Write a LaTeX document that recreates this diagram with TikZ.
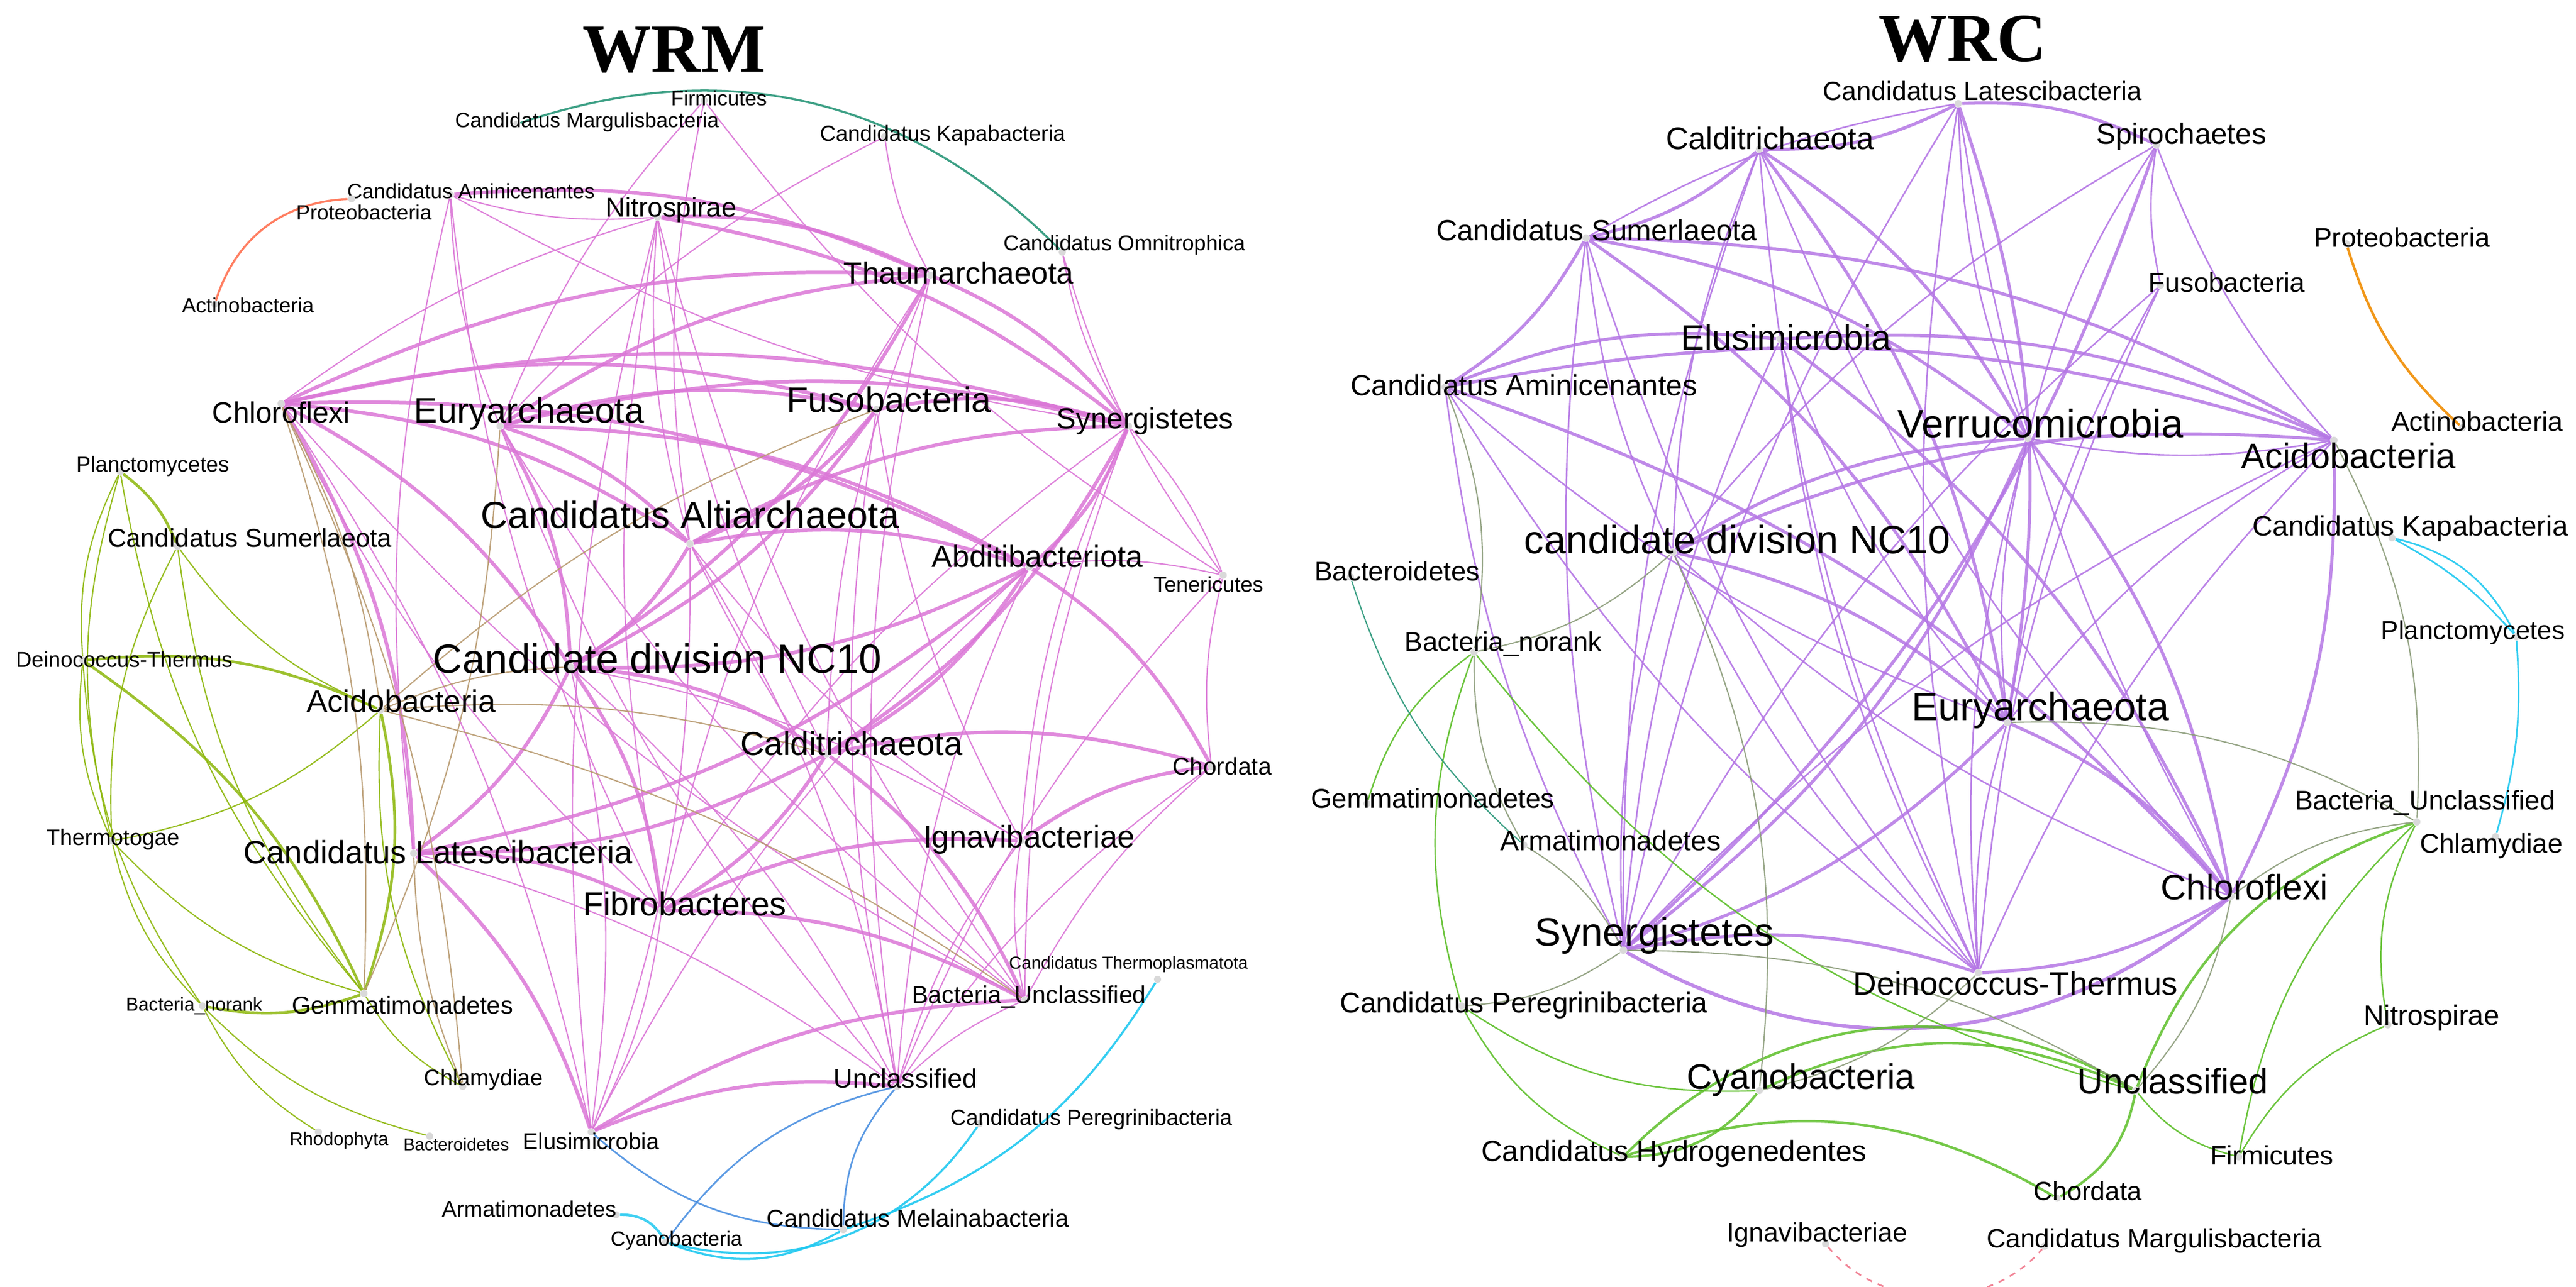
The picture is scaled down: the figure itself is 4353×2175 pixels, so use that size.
\documentclass[tikz,border=0pt]{standalone}
\usepackage{fontspec}
\setmainfont{Liberation Sans}
\newfontfamily\ttl{Liberation Serif}
\pgfdeclarelayer{bg}
\pgfsetlayers{bg,main}
\definecolor{pk}{RGB}{218,118,214}
\definecolor{pu}{RGB}{180,118,228}
\definecolor{ol}{RGB}{140,182,10}
\definecolor{gr}{RGB}{92,190,40}
\definecolor{tn}{RGB}{184,154,112}
\definecolor{og}{RGB}{140,156,122}
\definecolor{tl}{RGB}{40,150,120}
\definecolor{orr}{RGB}{255,112,80}
\definecolor{org}{RGB}{240,140,0}
\definecolor{bl}{RGB}{74,143,224}
\definecolor{cy}{RGB}{30,200,240}
\definecolor{rs}{RGB}{240,120,140}
\tikzset{
  x=0.01cm, y=-0.01cm,
  dot/.style={circle, inner sep=0pt, minimum size=0.12cm, fill=black!15},
  lab/.style={inner sep=0pt, text=black},
  T/.style={draw=#1, line width=1.7pt, opacity=0.85},
  t/.style={draw=#1, line width=0.6pt, opacity=0.9},
}
\newcommand\Nd[5]{\node[dot] (#1) at (#2) {}; \node[lab,font=\fontsize{#4}{#4}\selectfont] (#1-l) at (#3) {#5};}
\begin{document}
\begin{tikzpicture}
\useasboundingbox (0,0) rectangle (4353,2175);
\node[lab,font=\ttl\bfseries\fontsize{33}{33}\selectfont] (wrm) at (1139,84) {WRM};
\node[lab,font=\ttl\bfseries\fontsize{33}{33}\selectfont] (wrc) at (3316,66) {WRC};
% left
\Nd{lFm}{1190,170}{1215,166}{10}{Firmicutes}
\Nd{lMa}{873,210}{992,206}{10}{Candidatus Margulisbacteria}
\Nd{lK}{1495,231}{1593,229}{10.5}{Candidatus Kapabacteria}
\Nd{lAm}{761,329}{796,323}{10}{Candidatus Aminicenantes}
\Nd{lPr}{594,336}{615,359}{10}{Proteobacteria}
\Nd{lAct}{363,514}{419,516}{10}{Actinobacteria}
\Nd{lNi}{1111,367}{1134,355}{13}{Nitrospirae}
\Nd{lO}{1795,426}{1900,414}{10.3}{Candidatus Omnitrophica}
\Nd{lT}{1572,465}{1620,461}{14.6}{Thaumarchaeota}
\Nd{lC}{475,682}{475,697}{14}{Chloroflexi}
\Nd{lE}{845,720}{894,699}{17}{Euryarchaeota}
\Nd{lF}{1481,692}{1502,675}{17}{Fusobacteria}
\Nd{lS}{1907,720}{1935,712}{14}{Synergistetes}
\Nd{lP}{203,797}{258,788}{10.4}{Planctomycetes}
\Nd{lA}{1166,919}{1166,870}{18}{Candidatus Altiarchaeota}
\Nd{lSu}{300,923}{422,909}{12.4}{Candidatus Sumerlaeota}
\Nd{lAb}{1739,958}{1753,940}{14.7}{Abditibacteriota}
\Nd{lTe}{2067,972}{2042,988}{10.3}{Tenericutes}
\Nd{lDT}{140,1116}{210,1114}{10.4}{Deinococcus-Thermus}
\Nd{lN}{964,1127}{1111,1113}{19.6}{Candidate division NC10}
\Nd{lAc}{643,1200}{678,1185}{15}{Acidobacteria}
\Nd{lCa}{1397,1274}{1439,1256}{16}{Calditrichaeota}
\Nd{lCh}{2047,1295}{2065,1295}{11.6}{Chordata}
\Nd{lTh}{189,1421}{191,1419}{10.8}{Thermotogae}
\Nd{lL}{699,1442}{740,1440}{15.5}{Candidatus Latescibacteria}
\Nd{lI}{1725,1421}{1739,1419}{15}{Ignavibacteriae}
\Nd{lFi}{1118,1539}{1157,1527}{16}{Fibrobacteres}
\Nd{lTp}{1956,1655}{1907,1630}{8.4}{Candidatus Thermoplasmatota}
\Nd{lBn}{342,1700}{328,1700}{9}{Bacteria\_norank}
\Nd{lG}{615,1679}{680,1699}{11.8}{Gemmatimonadetes}
\Nd{lBU}{1732,1690}{1739,1685}{11.7}{Bacteria\_Unclassified}
\Nd{lChl}{782,1836}{817,1825}{10.8}{Chlamydiae}
\Nd{lU}{1516,1836}{1530,1822}{12.8}{Unclassified}
\Nd{lPe}{1655,1899}{1844,1892}{10.5}{Candidatus Peregrinibacteria}
\Nd{lRh}{538,1913}{573,1927}{8.8}{Rhodophyta}
\Nd{lBa}{726,1920}{771,1934}{8.3}{Bacteroidetes}
\Nd{lEl}{999,1913}{999,1929}{11}{Elusimicrobia}
\Nd{lAr}{1041,2053}{894,2043}{10.7}{Armatimonadetes}
\Nd{lMe}{1425,2078}{1551,2059}{11.7}{Candidatus Melainabacteria}
\Nd{lCy}{1125,2099}{1143,2097}{9.8}{Cyanobacteria}
% right
\Nd{rL}{3309,175}{3350,154}{12.7}{Candidatus Latescibacteria}
\Nd{rCa}{2973,252}{2991,234}{15}{Calditrichaeota}
\Nd{rSp}{3644,245}{3686,231}{14}{Spirochaetes}
\Nd{rSu}{2680,402}{2698,389}{14}{Candidatus Sumerlaeota}
\Nd{rPr}{3965,412}{4059,401}{13}{Proteobacteria}
\Nd{rFu}{3651,482}{3763,477}{13}{Fusobacteria}
\Nd{rEl}{3008,573}{3018,570}{17}{Elusimicrobia}
\Nd{rAm}{2442,654}{2575,651}{14}{Candidatus Aminicenantes}
\Nd{rV}{3427,741}{3448,716}{19}{Verrucomicrobia}
\Nd{rAct}{4161,723}{4186,712}{13}{Actinobacteria}
\Nd{rAc}{3944,744}{3969,770}{17}{Acidobacteria}
\Nd{rKa}{4042,909}{4073,893}{13.5}{Candidatus Kapabacteria}
\Nd{rN}{2827,933}{2936,912}{19}{candidate division NC10}
\Nd{rBa}{2282,975}{2361,965}{13}{Bacteroidetes}
\Nd{rPl}{4252,1076}{4179,1069}{12.5}{Planctomycetes}
\Nd{rBn}{2491,1102}{2540,1088}{13}{Bacteria\_norank}
\Nd{rE}{3392,1221}{3448,1200}{19}{Euryarchaeota}
\Nd{rGe}{2310,1358}{2421,1349}{13}{Gemmatimonadetes}
\Nd{rAr}{2575,1428}{2722,1421}{13.5}{Armatimonadetes}
\Nd{rBU}{4084,1389}{4098,1356}{13}{Bacteria\_Unclassified}
\Nd{rChl}{4217,1414}{4210,1430}{13}{Chlamydiae}
\Nd{rCh}{3770,1515}{3793,1499}{17}{Chloroflexi}
\Nd{rS}{2743,1606}{2796,1581}{19}{Synergistetes}
\Nd{rD}{3343,1644}{3406,1662}{15.6}{Deinococcus-Thermus}
\Nd{rPe}{2470,1700}{2575,1699}{13.7}{Candidatus Peregrinibacteria}
\Nd{rNi}{4035,1732}{4109,1720}{13.5}{Nitrospirae}
\Nd{rCy}{2973,1843}{3043,1825}{17}{Cyanobacteria}
\Nd{rU}{3609,1843}{3672,1827}{17}{Unclassified}
\Nd{rHy}{2743,1955}{2829,1950}{14}{Candidatus Hydrogenedentes}
\Nd{rFi}{3783,1955}{3839,1952}{12.8}{Firmicutes}
\Nd{rChd}{3476,2025}{3528,2013}{12.6}{Chordata}
\Nd{rIg}{3085,2102}{3071,2087}{12.8}{Ignavibacteriae}
\Nd{rMa}{3455,2106}{3640,2097}{12.7}{Candidatus Margulisbacteria}
\begin{pgfonlayer}{bg}
\foreach \a/\b in {lC/lS,lC/lF,lC/lT,lC/lA,lC/lAb,lE/lS,lE/lT,lE/lAb,lE/lA,lE/lF,lF/lS,lF/lA,lF/lN,lA/lAb,lA/lN,lA/lS,lAb/lN,lAb/lCa,lAb/lL,lN/lCa,lN/lL,lN/lFi,lCa/lL,lCa/lFi,lL/lFi,lFi/lBU,lCa/lCh,lAb/lCh,lCa/lBU,lFi/lI,lL/lEl,lEl/lU,lEl/lBU,lT/lS,lNi/lS,lNi/lT,lAm/lT,lS/lAb,lS/lCa,lT/lN,lI/lCh,lC/lN,lE/lN,lC/lL}
  \draw[T=pk] (\a) to[bend left=14] (\b);
\foreach \a/\b in {lFm/lA,lFm/lTe,lFm/lE,lK/lE,lK/lT,lO/lTe,lO/lS,lAm/lE,lAm/lL,lAm/lFi,lAm/lNi,lNi/lA,lNi/lFi,lNi/lCa,lNi/lC,lNi/lBU,lT/lFi,lT/lU,lT/lCa,lTe/lAb,lTe/lS,lTe/lCh,lTe/lU,lCh/lU,lCh/lBU,lI/lU,lI/lBU,lI/lN,lBU/lU,lU/lN,lU/lL,lU/lA,lEl/lN,lEl/lA,lEl/lFi,lEl/lC,lC/lBU,lE/lBU,lE/lU,lF/lU,lF/lI,lS/lBU,lS/lI,lS/lFi,lA/lI,lA/lBU,lAb/lU,lAb/lEl,lC/lFi,lAm/lS,lNi/lEl}
  \draw[t=pk] (\a) to[bend right=10] (\b);
\foreach \a/\b in {lDT/lAc,lDT/lG,lAc/lG,lG/lBn,lP/lSu}
  \draw[T=ol,line width=1.3pt] (\a) to[bend left=15] (\b);
\foreach \a/\b in {lP/lDT,lP/lTh,lP/lG,lSu/lG,lSu/lTh,lSu/lAc,lDT/lBn,lDT/lTh,lTh/lAc,lTh/lG,lTh/lBn,lAc/lChl,lG/lChl,lBn/lRh,lBn/lBa}
  \draw[t=ol] (\a) to[bend right=15] (\b);
\foreach \a/\b in {lC/lAc,lC/lG,lC/lChl,lAc/lN,lAc/lCa,lAc/lF,lE/lG,lAc/lBU,lChl/lL}
  \draw[t=tn] (\a) to[bend left=10] (\b);
\draw[t=tl,line width=1pt] (lMa) to[bend left=32] (lO);
\draw[t=orr,line width=1pt] (lAct) to[bend left=35] (lPr);
\foreach \a/\b in {lEl/lMe,lU/lCy,lU/lMe}
  \draw[t=bl,line width=0.8pt] (\a) to[bend right=20] (\b);
\draw[T=cy,line width=1.2pt] (lAr) to[bend left=30] (lCy);
\draw[t=cy,line width=1pt] (lCy) to[bend right=25] (lMe);
\draw[t=cy,line width=1pt] (lCy) to[bend right=35] (lPe);
\draw[t=cy,line width=1pt] (lMe) to[bend right=20] (lTp);
% right
\foreach \a/\b in {rL/rCa,rL/rSp,rCa/rSu,rSu/rAm,rSu/rAc,rSu/rV,rCa/rV,rCa/rE,rEl/rAc,rAm/rAc,rAm/rEl,rN/rAc,rN/rV,rV/rS,rV/rCh,rE/rS,rE/rCh,rS/rD,rN/rE,rAc/rCh,rCh/rD,rL/rE,rSp/rS,rEl/rCh,rAm/rCh,rSu/rE}
  \draw[T=pu,line width=1.5pt] (\a) to[bend left=14] (\b);
\draw[T=pu] (rS) to[bend right=35] (rCh);
\foreach \a/\b in {rL/rV,rL/rS,rL/rCh,rL/rD,rL/rSu,rCa/rN,rCa/rS,rCa/rD,rCa/rCh,rSp/rFu,rSp/rV,rSp/rAc,rSp/rN,rFu/rS,rFu/rE,rFu/rD,rSu/rN,rSu/rS,rSu/rD,rEl/rS,rEl/rD,rEl/rE,rAm/rS,rAm/rE,rAm/rD,rV/rE,rV/rD,rAc/rS,rAc/rE,rAc/rD,rN/rS,rN/rD,rN/rCh,rE/rD,rV/rAc}
  \draw[t=pu,line width=0.75pt] (\a) to[bend right=10] (\b);
\foreach \a/\b in {rCy/rHy,rCy/rU,rHy/rChd,rU/rChd,rU/rBU}
  \draw[T=gr,line width=1.2pt] (\a) to[bend left=25] (\b);
\draw[T=gr,line width=1.2pt] (rHy) to[bend left=38] (rU);
\foreach \a/\b in {rBn/rGe,rBn/rPe,rPe/rHy,rPe/rCy,rU/rFi,rBU/rNi,rBU/rFi,rNi/rFi,rBn/rU}
  \draw[t=gr,line width=0.7pt] (\a) to[bend right=18] (\b);
\foreach \a/\b in {rAm/rBn,rN/rBn,rN/rCy,rS/rPe,rAc/rBU,rCh/rBU,rCh/rU,rD/rCy,rAr/rBn,rAr/rS,rE/rBU,rS/rU}
  \draw[t=og] (\a) to[bend left=15] (\b);
\draw[t=cy,line width=0.8pt] (rKa) to[bend left=25] (rPl);
\draw[t=cy,line width=0.8pt] (rKa) to[bend left=10] (rPl);
\draw[t=cy,line width=0.8pt] (rPl) to[bend left=10] (rChl);
\draw[t=tl] (rBa) to[bend right=15] (rAr);
\draw[t=org,line width=1.2pt] (rPr) to[bend right=15] (rAct);
\draw[t=rs,dashed,line width=0.8pt] (rIg) to[bend right=50] (rMa);
\end{pgfonlayer}
\end{tikzpicture}
\end{document}
